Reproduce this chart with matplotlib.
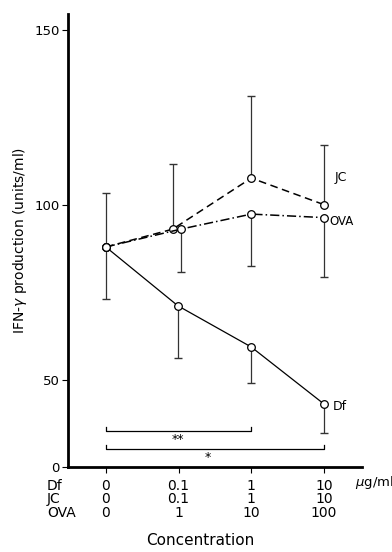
import numpy as np
import matplotlib
matplotlib.use("Agg")
import matplotlib.pyplot as plt

# concentrations (table under the x axis)
conc_df = ["0", "0.1", "1", "10"]
conc_jc = ["0", "0.1", "1", "10"]
conc_ova = ["0", "1", "10", "100"]

# JC (dashed), error bars upward
jc_x = [0, 0.92, 2, 3]
jc_y = [88, 93.1, 107.7, 100.1]
jc_up = [15.4, 18.6, 23.4, 17.0]

# OVA (dash-dot), error bars downward
ova_x = [0, 1.03, 2, 3]
ova_y = [88, 93.1, 97.4, 96.4]
ova_lo = [0, 12.2, 14.8, 17.0]

# Df (solid), error bars downward
df_x = [0, 0.99, 2, 3]
df_y = [88, 71.2, 59.4, 43.1]
df_lo = [15.0, 14.8, 10.4, 8.2]

Y0 = 25.1  # where the "0" of the broken axis sits


def err_bars(ax, x, y, lo, hi):
    x = np.array(x); y = np.array(y); lo = np.array(lo); hi = np.array(hi)
    for sign, e in ((-1, lo), (1, hi)):
        m = e > 0
        ends = y[m] + sign * e[m]
        ax.vlines(x[m], y[m], ends, color="#333333", lw=0.9, zorder=2)
        ax.plot(x[m], ends, ls="none", marker="_", ms=6, mew=1.0,
                color="#333333", zorder=2)


fig = plt.figure(figsize=(3.92, 5.52), dpi=100)
ax = fig.add_axes([0.1735, 0.154, 0.7495, 0.8206])

err_bars(ax, jc_x, jc_y, np.zeros(4), jc_up)
err_bars(ax, ova_x, ova_y, ova_lo, np.zeros(4))
err_bars(ax, df_x, df_y, df_lo, np.zeros(4))

mk = dict(marker="o", ms=5.5, mfc="white", mec="black", mew=0.9, color="black", zorder=3)
ax.plot(jc_x, jc_y, ls=(0, (5, 3)), lw=1.1, **mk)
ax.plot(ova_x, ova_y, ls=(0, (6, 2, 1, 2)), lw=1.1, **mk)
ax.plot(df_x, df_y, ls="-", lw=0.9, **mk)

ax.text(3.15, 108, "JC", fontsize=9, va="center")
ax.text(3.07, 95.3, "OVA", fontsize=8.5, va="center")
ax.text(3.12, 42.5, "Df", fontsize=9, va="center")

ax.set_xlim(-0.52, 3.52)
ax.set_ylim(Y0, 154.6)

for s in ("top", "right"):
    ax.spines[s].set_visible(False)
ax.spines["left"].set_linewidth(2)
ax.spines["bottom"].set_linewidth(2)

ax.set_yticks([Y0, 50, 100, 150])
ax.set_yticklabels(["0", "50", "100", "150"], fontsize=9.5)
ax.tick_params(axis="y", length=4, width=0.8, pad=2)
ax.set_xticks([0, 1, 2, 3])
ax.set_xticklabels([])
ax.tick_params(axis="x", length=4, width=0.8, direction="out")

ax.set_ylabel("IFN-$\\gamma$ production (units/ml)", fontsize=10, labelpad=4)

# significance brackets
for x1, yb, star, xs in ((2, 35.3, "**", 0.99), (3, 30.2, "*", 1.40)):
    ax.plot([0, 0, x1, x1], [yb + 1.2, yb, yb, yb + 1.2], color="black", lw=0.9)
    ax.text(xs, yb - 2.3, star, ha="center", va="center", fontsize=9)

# concentration table under the axis
tr = ax.get_xaxis_transform()
rows = [("Df", conc_df, -0.042), ("JC", conc_jc, -0.071), ("OVA", conc_ova, -0.102)]
for name, vals, yy in rows:
    ax.text(-0.81, yy, name, transform=tr, fontsize=10, va="center", ha="left")
    for i, v in enumerate(vals):
        ax.text(i, yy, v, transform=tr, fontsize=10, va="center", ha="center")
ax.text(3.42, -0.034, "$\\mu$g/ml", transform=tr, fontsize=9.5, va="center", ha="left")
ax.text(1.3, -0.163, "Concentration", transform=tr, fontsize=11, va="center", ha="center")

fig.savefig("out.png", dpi=100)
